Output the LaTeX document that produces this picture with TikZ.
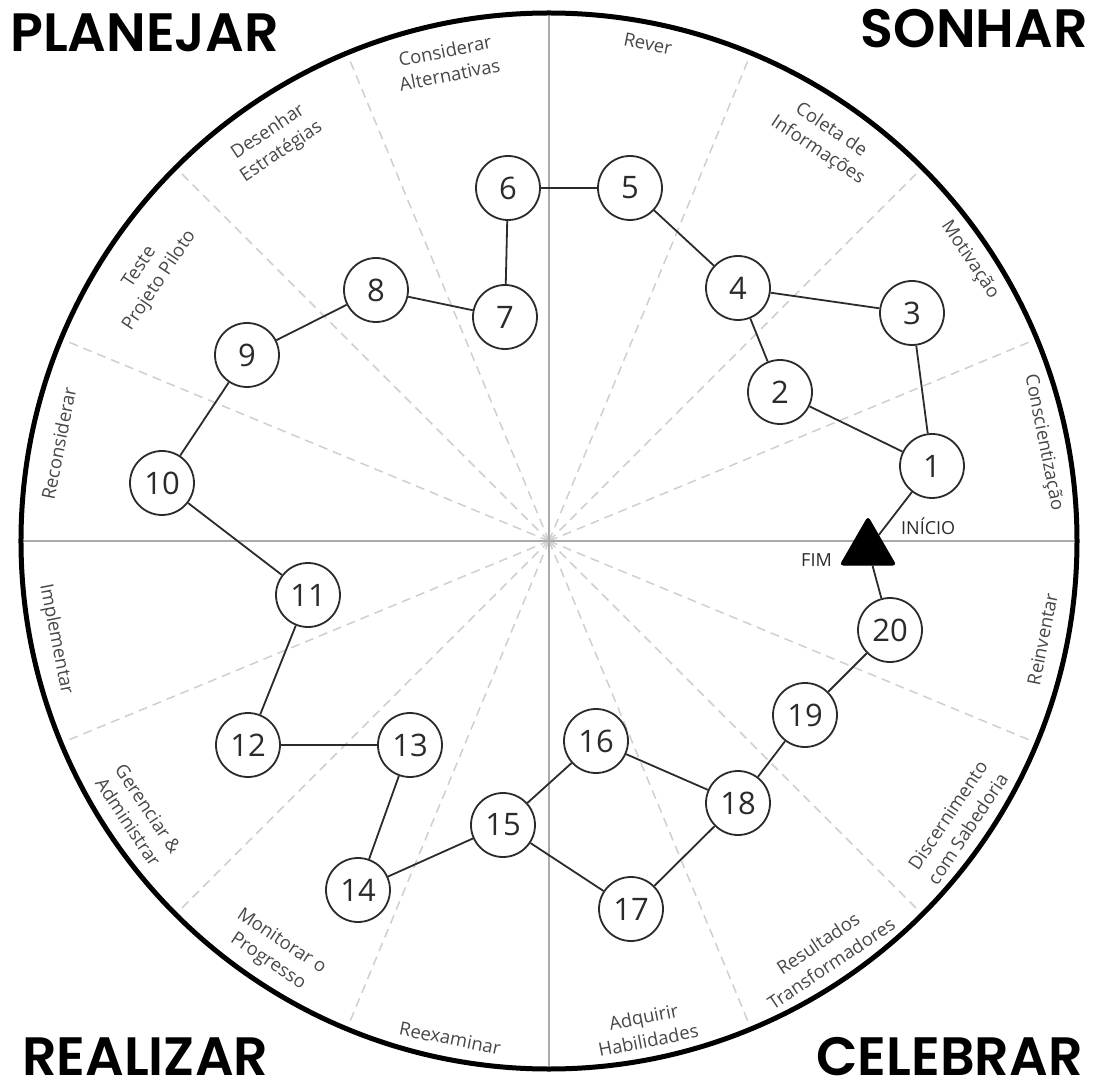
\documentclass[tikz,border=0pt]{standalone}
\usepackage{fontspec}
\setmainfont{Open Sans}
\newfontfamily\titlefont{Poppins}[UprightFont=* SemiBold]
\usetikzlibrary{shapes.geometric}
\definecolor{labelgray}{HTML}{474747}
\definecolor{axisgray}{HTML}{AAAAAA}
\definecolor{dashgray}{HTML}{CFCFCF}
\definecolor{linegray}{HTML}{2B2B2B}
\begin{document}
\begin{tikzpicture}[x=1pt,y=1pt,
  stepnode/.style={circle, draw=linegray, line width=1.8pt, fill=white, minimum size=64pt, inner sep=0pt, text=linegray, font=\fontsize{31}{31}\selectfont},
  conn/.style={draw=linegray, line width=1.8pt},
  sector/.style={text=labelgray, align=center, inner sep=0pt, font=\fontsize{18.5}{24}\selectfont},
  titletext/.style={inner sep=0pt, font=\titlefont\fontsize{54}{54}\selectfont},
  marktext/.style={inner sep=0pt, text=linegray, font=\fontsize{18}{20}\selectfont},
  axisline/.style={draw=axisgray, line width=1.5pt},
  sectorline/.style={draw=dashgray, line width=1.5pt, dash pattern=on 9pt off 6pt},
  triangle/.style={regular polygon, regular polygon sides=3, fill=black, draw=black, line width=1pt, rounded corners=3pt, minimum size=64pt, inner sep=0pt}
]
\useasboundingbox (-549,-543) rectangle (546,541);

% sector dividers
\foreach \a in {22.5,45,67.5,112.5,135,157.5,202.5,225,247.5,292.5,315,337.5}
  \draw[sectorline] (0,0) -- (\a:522);
\draw[axisline] (0,-527) -- (0,527);
\draw[axisline] (-527,0) -- (527,0);

% outer circle
\draw[line width=5pt] (0,0) circle (528);

% sector labels
\node[sector, rotate=-11.25] (lrever) at (78.75:507) {Rever};
\node[sector, rotate=-33.75] (lcoleta) at (55.5:486) {Coleta de\\Informações};
\node[sector, rotate=-56.25] (lmotiv) at (33.75:506) {Motivação};
\node[sector, rotate=-78.75] (lconsc) at (11.25:504) {Conscientização};
\node[sector, rotate=78.75] (lreinv) at (-11.25:503) {Reinventar};
\node[sector, rotate=56.25] (ldisc) at (-34.5:496) {Discernimento\\com Sabedoria};
\node[sector, rotate=33.75] (lresult) at (-56.25:496) {Resultados\\Transformadores};
\node[sector, rotate=11.25] (ladq) at (-78.75:497) {Adquirir\\Habilidades};
\node[sector, rotate=-11.25] (lreex) at (-101.25:507) {Reexaminar};
\node[sector, rotate=-33.75] (lmonit) at (-123.75:494) {Monitorar o\\Progresso};
\node[sector, rotate=-56.25] (lgeren) at (-146.25:494) {Gerenciar \&\\Administrar};
\node[sector, rotate=-78.75] (limpl) at (-168.75:503) {Implementar};
\node[sector, rotate=78.75] (lrecon) at (168.75:500) {Reconsiderar};
\node[sector, rotate=56.25] (lteste) at (146.25:480) {Teste\\Projeto Piloto};
\node[sector, rotate=33.75] (ldesen) at (124.5:484) {Desenhar\\Estratégias};
\node[sector, rotate=11.25] (lconsid) at (102:489) {Considerar\\Alternativas};

% titles
\node[titletext, anchor=base west] (tplan) at (-539,489) {PLANEJAR};
\node[titletext, anchor=base east] (tsonh) at (539,493) {SONHAR};
\node[titletext, anchor=base west] (treal) at (-527,-534) {REALIZAR};
\node[titletext, anchor=base east] (tcele) at (534,-534) {CELEBRAR};

% step nodes
\node[stepnode] (n1) at (383,75) {1};
\node[stepnode] (n2) at (231,149) {2};
\node[stepnode] (n3) at (363,228) {3};
\node[stepnode] (n4) at (189,253) {4};
\node[stepnode] (n5) at (81,353) {5};
\node[stepnode] (n6) at (-41,353) {6};
\node[stepnode] (n7) at (-44,224) {7};
\node[stepnode] (n8) at (-173,251) {8};
\node[stepnode] (n9) at (-302,186) {9};
\node[stepnode] (n10) at (-387,58) {10};
\node[stepnode] (n11) at (-241,-54) {11};
\node[stepnode] (n12) at (-301,-204) {12};
\node[stepnode] (n13) at (-139,-204) {13};
\node[stepnode] (n14) at (-191,-349) {14};
\node[stepnode] (n15) at (-46,-284) {15};
\node[stepnode] (n16) at (47,-200) {16};
\node[stepnode] (n17) at (82,-368) {17};
\node[stepnode] (n18) at (189,-262) {18};
\node[stepnode] (n19) at (256,-174) {19};
\node[stepnode] (n20) at (341,-89) {20};

% start / end marker
\node[triangle] (tri) at (319,-8) {};
\node[marktext, anchor=base west] (ini) at (352,6) {INÍCIO};
\node[marktext, anchor=base east] (fim) at (283,-26) {FIM};

% connectors
\foreach \p/\q in {tri/n1, n1/n3, n1/n2, n2/n4, n4/n3, n4/n5, n5/n6, n6/n7, n7/n8, n8/n9, n9/n10, n10/n11, n11/n12, n12/n13, n13/n14, n14/n15, n15/n16, n15/n17, n16/n18, n17/n18, n18/n19, n19/n20, n20/tri}
  \draw[conn] (\p) -- (\q);
\end{tikzpicture}
\end{document}
